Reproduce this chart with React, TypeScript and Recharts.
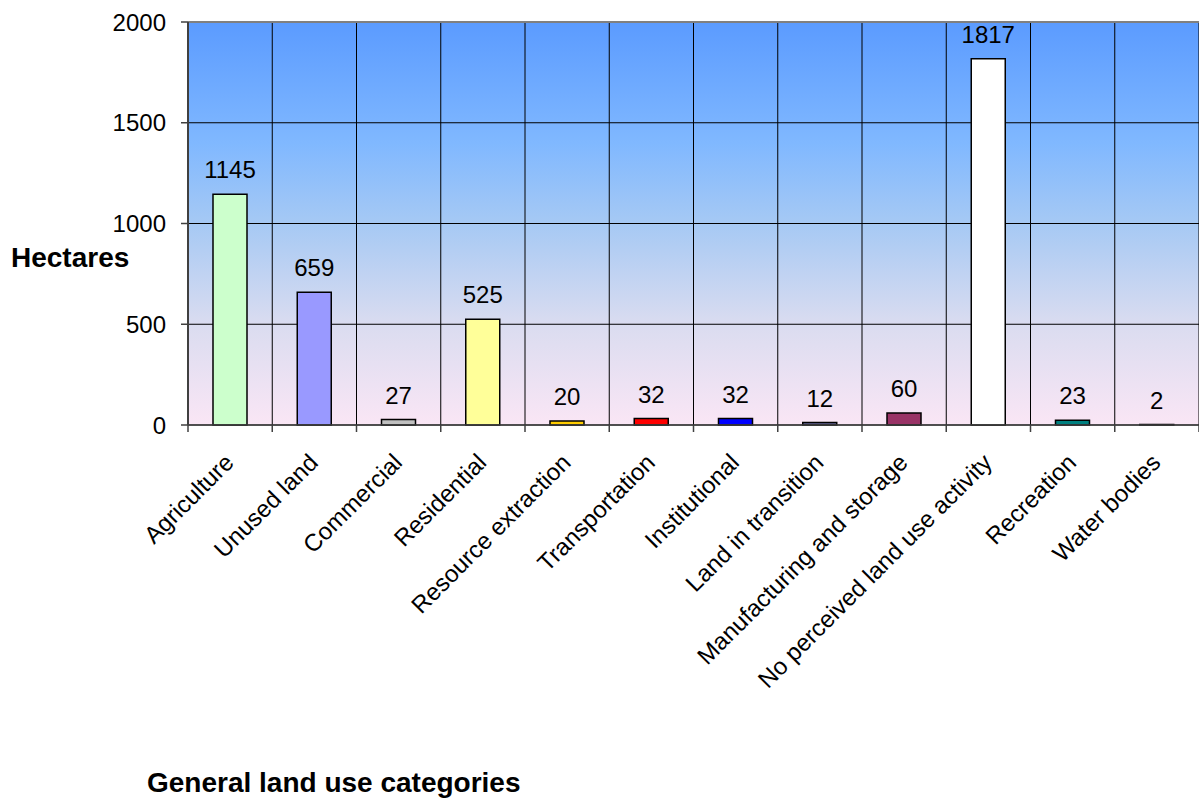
import React from 'react';
import { BarChart, Bar, XAxis, YAxis, CartesianGrid, Cell, LabelList, ReferenceLine } from 'recharts';

const categories = [
  'Agriculture',
  'Unused land',
  'Commercial',
  'Residential',
  'Resource extraction',
  'Transportation',
  'Institutional',
  'Land in transition',
  'Manufacturing and storage',
  'No perceived land use activity',
  'Recreation',
  'Water bodies',
];
const hectares = [1145, 659, 27, 525, 20, 32, 32, 12, 60, 1817, 23, 2];
const barColors = [
  '#CCFFCC', '#9999FF', '#C0C0C0', '#FFFF99', '#FFCC00', '#FF0000',
  '#0000FF', '#666699', '#993366', '#FFFFFF', '#008080', '#000080',
];
const yTicks = [0, 500, 1000, 1500, 2000];

const data = categories.map((name, i) => ({ name, value: hectares[i] }));

const FONT = 'Arial, "Liberation Sans", sans-serif';

const CatTick = (props: any) => {
  const { x, y, payload, index } = props;
  const half = payload && payload.offset ? payload.offset : 0;
  const last = index === categories.length - 1;
  return (
    <g>
      <line x1={x - half} x2={x - half} y1={y} y2={y + 7} stroke="#404040" strokeWidth={1.5} />
      {last && <line x1={x + half} x2={x + half} y1={y} y2={y + 7} stroke="#404040" strokeWidth={1.5} />}
      <g transform={`translate(${x + 5},${y + 39})`}>
        <text textAnchor="end" transform="rotate(-45)" fontSize={24} fontFamily={FONT} fill="#000">
          {payload.value}
        </text>
      </g>
    </g>
  );
};

const verticalLines = ({ offset }: any) => {
  const n = categories.length;
  return categories.map((_, i) => offset.left + (i * offset.width) / n).concat([offset.left + offset.width]);
};

export default function App() {
  return (
    <div style={{ position: 'absolute', left: 0, top: 0, width: 1199, height: 802, background: '#fff', overflow: 'hidden' }}>
      <BarChart
        width={1199}
        height={802}
        data={data}
        margin={{ top: 22, right: 0, left: 0, bottom: 0 }}
      >
        <defs>
          <linearGradient id="bgGrad" x1="0" y1="0" x2="0" y2="1">
            <stop offset="0" stopColor="#5B9BFF" />
            <stop offset="0.3" stopColor="#80B8FF" />
            <stop offset="0.5" stopColor="#A6C9F4" />
            <stop offset="0.75" stopColor="#DADCF0" />
            <stop offset="1" stopColor="#FAE6F5" />
          </linearGradient>
        </defs>
        <CartesianGrid
          fill="url(#bgGrad)"
          fillOpacity={1}
          stroke="#000"
          strokeWidth={1}
          verticalCoordinatesGenerator={verticalLines}
        />
        <XAxis
          dataKey="name"
          type="category"
          height={377}
          interval={0}
          tickSize={0}
          tickMargin={0}
          tickLine={false}
          axisLine={{ stroke: '#404040', strokeWidth: 1.5 }}
          tick={<CatTick />}
        />
        <YAxis
          width={188}
          domain={[0, 2000]}
          ticks={yTicks}
          interval={0}
          tickSize={7}
          tickMargin={15}
          tick={{ fontSize: 24, fill: '#000', fontFamily: FONT }}
          tickLine={{ stroke: '#404040', strokeWidth: 1.5 }}
          axisLine={{ stroke: '#404040', strokeWidth: 2 }}
        />
        <ReferenceLine y={2000} stroke="#808080" strokeWidth={2} ifOverflow="visible" />
        <Bar dataKey="value" barSize={34} stroke="#000" strokeWidth={1.5} isAnimationActive={false}>
          {data.map((d, i) => (
            <Cell key={d.name} fill={barColors[i]} />
          ))}
          <LabelList dataKey="value" position="top" offset={16} fontSize={24} fill="#000" fontFamily={FONT} />
        </Bar>
      </BarChart>
      <div style={{ position: 'absolute', left: 11, top: 244, fontFamily: FONT, fontWeight: 'bold', fontSize: 28, lineHeight: '28px', color: '#000', whiteSpace: 'nowrap' }}>
        Hectares
      </div>
      <div style={{ position: 'absolute', left: 147, top: 769, fontFamily: FONT, fontWeight: 'bold', fontSize: 28, lineHeight: '28px', color: '#000', whiteSpace: 'nowrap' }}>
        General land use categories
      </div>
    </div>
  );
}
